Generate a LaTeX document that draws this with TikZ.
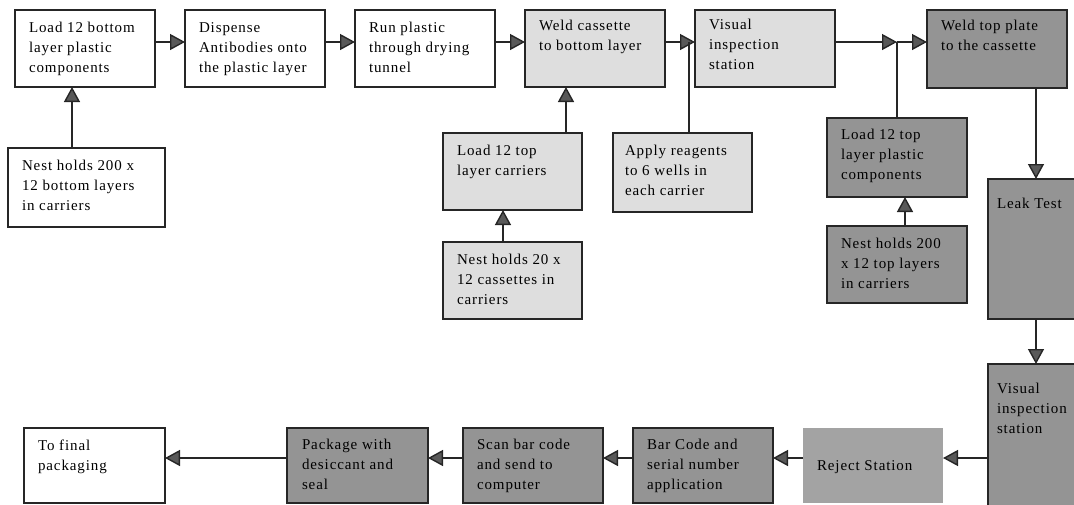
\documentclass[tikz,border=0pt]{standalone}
\usepackage{fontspec}
\setmainfont{Liberation Serif}[LetterSpace=6]
\usetikzlibrary{arrows.meta}
\newcommand\bxt[5]{\begin{minipage}[c][#4][t]{#3}\raggedright\leftskip=#1\relax\rule{0pt}{#2}#5\par\end{minipage}}
\tikzset{
  box/.style={draw=black!85, line width=1.4pt, inner sep=0pt, outer sep=0pt, anchor=north west, font=\fontsize{15}{20}\selectfont},
  wbox/.style={box, fill=white},
  lbox/.style={box, fill=black!13},
  dbox/.style={box, fill=black!42},
  rbox/.style={box, draw=none, fill=black!36},
  ln/.style={draw=black!85, line width=1.4pt},
  arr/.style={ln, -{Triangle[length=15pt,width=16pt,fill=black!65]}}
}
\begin{document}
\begin{tikzpicture}[x=1pt,y=-1pt]
\useasboundingbox (0,0) rectangle (1074,504);
% top row
\node[wbox] (n1) at (15,10) {\bxt{14pt}{22pt}{140pt}{77pt}{Load 12 bottom\\layer plastic\\components}};
\node[wbox] (n2) at (185,10) {\bxt{14pt}{22pt}{140pt}{77pt}{Dispense\\Antibodies onto\\the plastic layer}};
\node[wbox] (n3) at (355,10) {\bxt{14pt}{22pt}{140pt}{77pt}{Run plastic\\through drying\\tunnel}};
\node[lbox] (n4) at (525,10) {\bxt{14pt}{20pt}{140pt}{77pt}{Weld cassette\\to bottom layer}};
\node[lbox] (n5) at (695,10) {\bxt{14pt}{19pt}{140pt}{77pt}{Visual\\inspection\\station}};
\node[dbox] (n6) at (927,10) {\bxt{14pt}{20pt}{140pt}{78pt}{Weld top plate\\to the cassette}};
% middle
\node[wbox] (nb) at (8,148) {\bxt{14pt}{22pt}{157pt}{79pt}{Nest holds 200 x\\12 bottom layers\\in carriers}};
\node[lbox] (lc) at (443,133) {\bxt{14pt}{22pt}{139pt}{77pt}{Load 12 top\\layer carriers}};
\node[lbox] (ar) at (613,133) {\bxt{12pt}{22pt}{139pt}{79pt}{Apply reagents\\to 6 wells in\\each carrier}};
\node[lbox] (nc) at (443,242) {\bxt{14pt}{22pt}{139pt}{77pt}{Nest holds 20 x\\12 cassettes in\\carriers}};
\node[dbox] (lp) at (827,118) {\bxt{14pt}{21pt}{140pt}{79pt}{Load 12 top\\layer plastic\\components}};
\node[dbox] (nt) at (827,226) {\bxt{14pt}{22pt}{140pt}{77pt}{Nest holds 200\\x 12 top layers\\in carriers}};
\node[dbox] (lt) at (988,179) {\bxt{9pt}{29pt}{92pt}{140pt}{Leak Test}};
\node[dbox] (v2) at (988,364) {\bxt{9pt}{29pt}{92pt}{145pt}{Visual\\inspection\\station}};
% bottom row
\node[wbox] (ff) at (24,428) {\bxt{14pt}{22pt}{141pt}{75pt}{To final\\packaging}};
\node[dbox] (pk) at (287,428) {\bxt{15pt}{21pt}{141pt}{75pt}{Package with\\desiccant and\\seal}};
\node[dbox] (sc) at (463,428) {\bxt{14pt}{21pt}{140pt}{75pt}{Scan bar code\\and send to\\computer}};
\node[dbox] (bc) at (633,428) {\bxt{14pt}{21pt}{140pt}{75pt}{Bar Code and\\serial number\\application}};
\node[rbox] (rj) at (803,428) {\bxt{14pt}{42pt}{140pt}{75pt}{Reject Station}};
% junctions
\coordinate (j1) at (689,42);
\coordinate (j2) at (897,42);
\coordinate (c1) at (1036,0);
\coordinate (c2) at (72,0);
\coordinate (c3) at (566,0);
\coordinate (c4) at (503,0);
\coordinate (c5) at (905,0);
\coordinate (r) at (0,458);
% top connectors
\draw[arr] (n1.east|-j1) -- (n2.west|-j1);
\draw[arr] (n2.east|-j1) -- (n3.west|-j1);
\draw[arr] (n3.east|-j1) -- (n4.west|-j1);
\draw[arr] (n4.east|-j1) -- (n5.west|-j1);
\draw[ln] (ar.north-|j1) -- (j1);
\draw[arr] (n5.east|-j2) -- (j2);
\draw[arr] (j2) -- (n6.west|-j2);
\draw[ln] (lp.north-|j2) -- (j2);
% vertical connectors
\draw[arr] (nb.north-|c2) -- (n1.south-|c2);
\draw[arr] (lc.north-|c3) -- (n4.south-|c3);
\draw[arr] (nc.north-|c4) -- (lc.south-|c4);
\draw[arr] (nt.north-|c5) -- (lp.south-|c5);
\draw[arr] (n6.south-|c1) -- (lt.north-|c1);
\draw[arr] (lt.south-|c1) -- (v2.north-|c1);
% bottom connectors
\draw[arr] (v2.west|-r) -- (rj.east|-r);
\draw[arr] (rj.west|-r) -- (bc.east|-r);
\draw[arr] (bc.west|-r) -- (sc.east|-r);
\draw[arr] (sc.west|-r) -- (pk.east|-r);
\draw[arr] (pk.west|-r) -- (ff.east|-r);
\end{tikzpicture}
\end{document}
